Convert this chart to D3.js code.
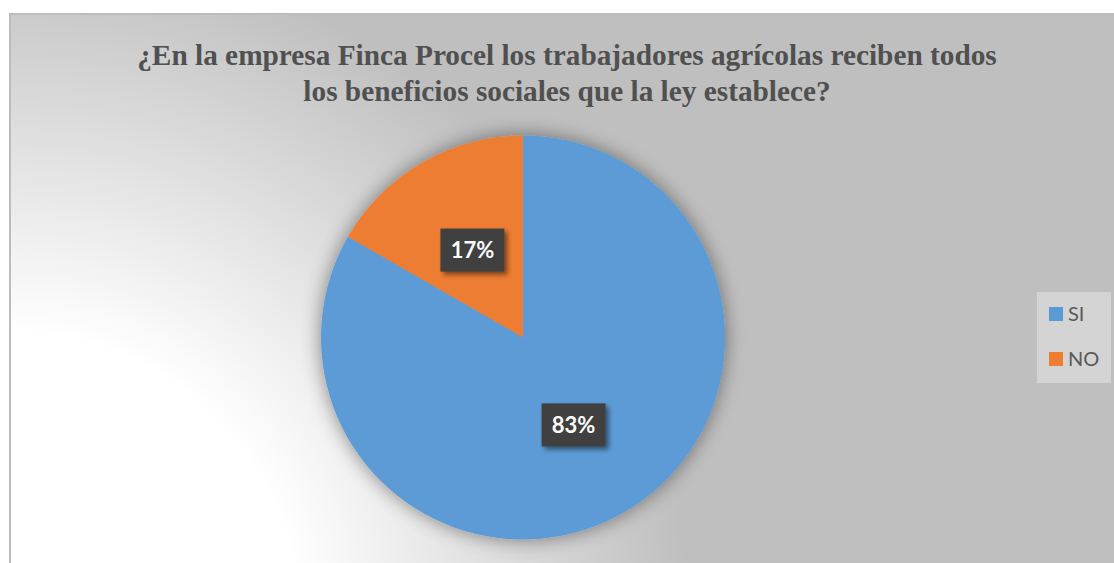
<!DOCTYPE html>
<html><head><meta charset="utf-8">
<script src="https://cdn.jsdelivr.net/npm/d3@7"></script>
<style>html,body{margin:0;padding:0;background:#fff;overflow:hidden}</style>
</head><body>
<svg id="chart" width="1114" height="563"></svg>
<script>
const titleLines = ["¿En la empresa Finca Procel los trabajadores agrícolas reciben todos", "los beneficios sociales que la ley establece?"];
const categories = ["SI", "NO"];
const values = [83.3, 16.7];
const labels = ["83%", "17%"];
const colors = ["#5b9bd5", "#ed7d31"];

const svg = d3.select("#chart");
const defs = svg.append("defs");
const grad = defs.append("radialGradient").attr("id","bg")
  .attr("gradientUnits","userSpaceOnUse").attr("cx",10).attr("cy",620).attr("r",700);
grad.append("stop").attr("offset",0).attr("stop-color","#ffffff");
grad.append("stop").attr("offset",0.41).attr("stop-color","#ffffff");
grad.append("stop").attr("offset",0.97).attr("stop-color","#bfbfbf");
grad.append("stop").attr("offset",1).attr("stop-color","#bfbfbf");

const glow = defs.append("filter").attr("id","glow").attr("x","-30%").attr("y","-30%").attr("width","160%").attr("height","160%");
glow.append("feGaussianBlur").attr("in","SourceAlpha").attr("stdDeviation",10).attr("result","b");
glow.append("feComponentTransfer").attr("in","b").attr("result","b2")
  .append("feFuncA").attr("type","linear").attr("slope",0.45);
const gm = glow.append("feMerge");
gm.append("feMergeNode").attr("in","b2");
gm.append("feMergeNode").attr("in","SourceGraphic");

const sh = defs.append("filter").attr("id","shadow").attr("x","-30%").attr("y","-30%").attr("width","160%").attr("height","160%");
sh.append("feGaussianBlur").attr("in","SourceAlpha").attr("stdDeviation",2.5).attr("result","b");
sh.append("feOffset").attr("in","b").attr("dx",3).attr("dy",3).attr("result","o");
sh.append("feComponentTransfer").attr("in","o").attr("result","o2")
  .append("feFuncA").attr("type","linear").attr("slope",0.5);
const sm = sh.append("feMerge");
sm.append("feMergeNode").attr("in","o2");
sm.append("feMergeNode").attr("in","SourceGraphic");

// chart area
svg.append("rect").attr("x",10).attr("y",14).attr("width",1120).attr("height",600)
  .attr("fill","url(#bg)").attr("stroke","#bcbcbc").attr("stroke-width",2);

// title
const title = svg.append("text").attr("text-anchor","middle")
  .attr("font-family","'Liberation Serif','Times New Roman',serif")
  .attr("font-weight","bold").attr("font-size",29.3).attr("fill","#505050");
titleLines.forEach((t,i)=>{
  title.append("tspan").attr("x",567).attr("y",65+i*35.5).text(t);
});

// pie
const cx = 523, cy = 337.5, R = 202;
const pie = d3.pie().sort(null).value(d=>d.v);
const data = categories.map((c,i)=>({c, v: values[i], l: labels[i], col: colors[i]}));
const arcs = pie(data);
const arc = d3.arc().innerRadius(0).outerRadius(R);
const g = svg.append("g").attr("transform",`translate(${cx},${cy})`);
g.append("g").attr("filter","url(#glow)")
  .selectAll("path").data(arcs).join("path")
  .attr("d",arc).attr("fill",d=>d.data.col);

// labels
const lbl = g.selectAll("g.lbl").data(arcs).join("g").attr("class","lbl")
  .attr("transform",d=>{const [x,y]=arc.centroid(d);return `translate(${x},${y})`;});
lbl.append("rect").attr("x",-32).attr("y",-21.5).attr("width",64).attr("height",43)
  .attr("fill","#404040").attr("filter","url(#shadow)");
lbl.append("text").attr("text-anchor","middle").attr("dy","0.36em")
  .attr("font-family","Lato,'Open Sans',sans-serif").attr("font-weight","bold")
  .attr("font-size",22).attr("fill","#ffffff").text(d=>d.data.l);

// legend
const lg = svg.append("g").attr("transform","translate(1037,292)");
lg.append("rect").attr("width",74).attr("height",91).attr("fill","#d4d4d4");
const items = lg.selectAll("g").data(data).join("g")
  .attr("transform",(d,i)=>`translate(12,${15+i*45})`);
items.append("rect").attr("width",14).attr("height",14).attr("fill",d=>d.col);
items.append("text").attr("x",19).attr("y",7).attr("dy","0.36em")
  .attr("font-family","Lato,'Open Sans',sans-serif").attr("font-size",20)
  .attr("fill","#595959").text(d=>d.c);
</script>
</body></html>
